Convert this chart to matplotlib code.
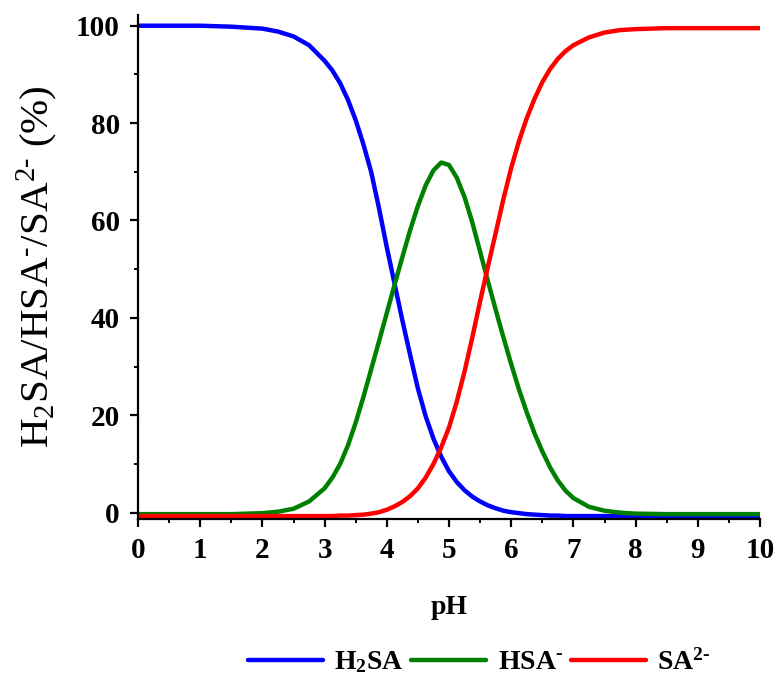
import numpy as np
import matplotlib
matplotlib.use("Agg")
import matplotlib.pyplot as plt
from matplotlib.ticker import MultipleLocator

plt.rcParams['font.family'] = ['Liberation Serif', 'DejaVu Serif']
plt.rcParams['mathtext.fontset'] = 'custom'
plt.rcParams['mathtext.rm'] = 'Liberation Serif'
plt.rcParams['mathtext.default'] = 'regular'

# pH grid (finer through the transition region)
ph = [0, 0.5, 1, 1.5, 2, 2.25, 2.5, 2.75,
      3.0, 3.125, 3.25, 3.375, 3.5, 3.625, 3.75, 3.875,
      4.0, 4.125, 4.25, 4.375, 4.5, 4.625, 4.75, 4.875,
      5.0, 5.125, 5.25, 5.375, 5.5, 5.625, 5.75, 5.875,
      6.0, 6.125, 6.25, 6.375, 6.5, 6.625, 6.75, 6.875,
      7.0, 7.25, 7.5, 7.75, 8, 8.5, 9, 9.5, 10]

# species distribution (%)
h2sa = [100.0, 100.0, 100.0, 99.8, 99.4, 98.8, 97.8, 96.0,
        92.8, 90.8, 88.2, 84.8, 80.6, 75.6, 69.9, 62.5,
        54.5, 47.0, 39.5, 32.4, 25.5, 19.8, 15.2, 11.5,
        8.5, 6.3, 4.6, 3.3, 2.3, 1.5, 0.9, 0.4,
        0.1, -0.1, -0.3, -0.4, -0.5, -0.6, -0.6, -0.7,
        -0.7, -0.7, -0.7, -0.7, -0.7, -0.7, -0.7, -0.7, -0.7]

hsa = [-0.3, -0.3, -0.3, -0.3, -0.1, 0.2, 0.8, 2.3,
       5.0, 7.2, 10.0, 13.8, 18.5, 23.8, 29.5, 35.2,
       41.0, 46.8, 52.5, 58.0, 63.0, 67.2, 70.3, 71.9,
       71.4, 68.8, 64.8, 59.6, 53.6, 47.6, 41.7, 36.0,
       30.5, 25.3, 20.6, 16.3, 12.6, 9.3, 6.6, 4.5,
       3.0, 1.2, 0.4, 0.0, -0.2, -0.3, -0.3, -0.3, -0.3]

sa = [-0.7, -0.7, -0.7, -0.7, -0.7, -0.7, -0.7, -0.7,
      -0.7, -0.7, -0.6, -0.6, -0.5, -0.4, -0.2, 0.1,
      0.6, 1.3, 2.2, 3.4, 5.0, 7.2, 10.0, 13.4,
      17.5, 22.8, 29.0, 36.0, 43.4, 50.5, 57.4, 64.4,
      70.8, 76.3, 81.0, 85.0, 88.4, 91.1, 93.2, 94.8,
      96.0, 97.6, 98.6, 99.1, 99.3, 99.5, 99.5, 99.5, 99.5]

HY = '\u2010'  # short hyphen for the charge signs
labels = [r'H$_\mathregular{2}$SA', 'HSA$^{' + HY + '}$', 'SA$^{2' + HY + '}$']
colors = ['#0000ff', '#008000', '#ff0000']

fig = plt.figure(figsize=(7.79, 6.84), dpi=100)
ax = fig.add_axes([138 / 779, 1 - 519 / 684, 622 / 779, 504 / 684])

for y, lab, c in zip([h2sa, hsa, sa], labels, colors):
    ax.plot(ph, y, color=c, lw=3.2, label=lab,
            solid_capstyle='round', solid_joinstyle='round')

ax.set_xlim(0, 10)
ax.set_ylim(-1.3, 102.2)
ax.xaxis.set_major_locator(MultipleLocator(1))
ax.xaxis.set_minor_locator(MultipleLocator(0.5))
ax.yaxis.set_major_locator(MultipleLocator(20))
ax.yaxis.set_minor_locator(MultipleLocator(10))

for s in ['top', 'right']:
    ax.spines[s].set_visible(False)
for s in ['left', 'bottom']:
    ax.spines[s].set_linewidth(1.6)

ax.tick_params(which='major', direction='out', length=6, width=1.6,
               labelsize=21, pad=7)
ax.tick_params(which='minor', direction='out', length=3, width=1.4)
for t in ax.get_xticklabels() + ax.get_yticklabels():
    t.set_fontweight('bold')

ax.set_xlabel('pH', fontsize=20, fontweight='bold', labelpad=22)
ax.set_ylabel('H$_\\mathregular{2}$SA/HSA$^{' + HY + '}$/SA$^{2' + HY + '}$ (%)',
              fontsize=29.5)
ax.yaxis.set_label_coords(-0.125, 0.5)

fig.legend(loc='center', bbox_to_anchor=(479 / 779, 1 - 662 / 684), ncol=3,
           frameon=False, handlelength=2.7, handletextpad=0.4,
           columnspacing=0.3, prop={'weight': 'bold', 'size': 20})

fig.savefig('out.png', dpi=100)
